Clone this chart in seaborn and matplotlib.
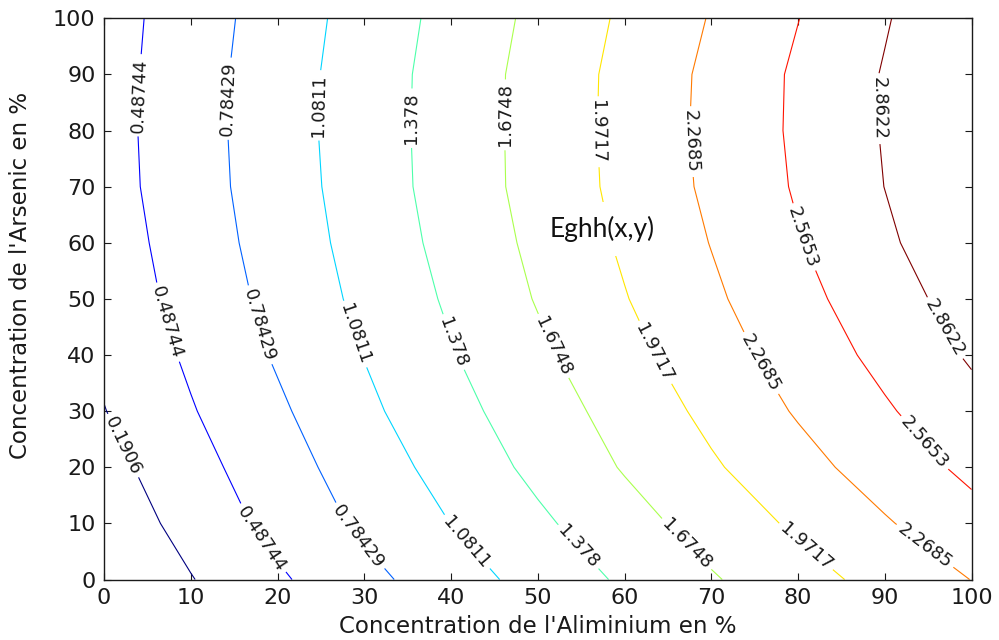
import numpy as np
import matplotlib
matplotlib.use("Agg")
import matplotlib.pyplot as plt
import seaborn as sns

# Grid of the computed gap Eghh(x, y): x = aluminium %, y = arsenic %
al_pct = [0, 10, 20, 30, 40, 50, 60, 70, 80, 90, 100]
as_pct = [0, 10, 20, 30, 40, 50, 60, 70, 80, 90, 100]

eg_as000 = [-0.106, 0.177, 0.445, 0.699, 0.946, 1.187, 1.421, 1.648, 1.860, 2.068, 2.273]
eg_as010 = [0.000, 0.293, 0.576, 0.838, 1.084, 1.325, 1.563, 1.795, 2.020, 2.242, 2.462]
eg_as020 = [0.090, 0.383, 0.659, 0.927, 1.192, 1.448, 1.696, 1.936, 2.169, 2.401, 2.633]
eg_as030 = [0.182, 0.467, 0.738, 1.019, 1.284, 1.534, 1.784, 2.043, 2.295, 2.532, 2.769]
eg_as040 = [0.246, 0.533, 0.815, 1.089, 1.359, 1.618, 1.880, 2.140, 2.394, 2.645, 2.895]
eg_as050 = [0.305, 0.588, 0.869, 1.149, 1.419, 1.693, 1.958, 2.219, 2.478, 2.734, 2.990]
eg_as060 = [0.337, 0.626, 0.910, 1.190, 1.468, 1.740, 2.012, 2.277, 2.547, 2.814, 3.081]
eg_as070 = [0.367, 0.655, 0.937, 1.219, 1.502, 1.776, 2.049, 2.323, 2.595, 2.865, 3.135]
eg_as080 = [0.376, 0.662, 0.949, 1.230, 1.505, 1.780, 2.059, 2.338, 2.613, 2.881, 3.148]
eg_as090 = [0.369, 0.658, 0.943, 1.224, 1.502, 1.777, 2.054, 2.330, 2.609, 2.881, 3.153]
eg_as100 = [0.357, 0.639, 0.920, 1.199, 1.473, 1.744, 2.017, 2.285, 2.560, 2.840, 3.120]

levels = [0.1906, 0.48744, 0.78429, 1.0811, 1.378, 1.6748, 1.9717, 2.2685, 2.5653, 2.8622]

x_ticks = [0, 10, 20, 30, 40, 50, 60, 70, 80, 90, 100]
y_ticks = [0, 10, 20, 30, 40, 50, 60, 70, 80, 90, 100]

x_label = "Concentration de l'Aliminium en %"
y_label = "Concentration de l'Arsenic en %"
note_text = "Eghh(x,y)"

Z = np.array([eg_as000, eg_as010, eg_as020, eg_as030, eg_as040, eg_as050,
              eg_as060, eg_as070, eg_as080, eg_as090, eg_as100])

sns.set_theme(style="ticks")
plt.rcParams['font.family'] = ['DejaVu Sans']

fig = plt.figure(figsize=(9.99, 6.4), dpi=100)
ax = fig.add_axes([0.1041, 0.0945, 0.8684, 0.8769])

jet = matplotlib.colormaps['jet']
colors = sns.color_palette(jet(np.linspace(0, 1, len(levels))))
cs = ax.contour(al_pct, as_pct, Z, levels=levels, colors=colors, linewidths=0.8)

label_pos = [(2.0, 23.7),
             (3.8, 86.3), (6.8, 45.6), (18.2, 7.3),
             (13.9, 85.7), (17.8, 45.3), (29.3, 7.6),
             (24.6, 84.5), (28.7, 43.6), (41.6, 6.4),
             (35.3, 82.2), (39.9, 42.1), (54.3, 5.3),
             (46.0, 82.8), (51.2, 41.2), (66.8, 5.8),
             (57.1, 79.8), (62.9, 40.0), (80.6, 5.3),
             (67.4, 78.0), (75.0, 37.9), (94.3, 5.3),
             (80.2, 60.8), (94.3, 24.0),
             (89.2, 83.9), (96.6, 44.5)]
ax.clabel(cs, levels, inline=True, fmt='%.5g', fontsize=13, colors='k',
          manual=label_pos, inline_spacing=4)

ax.text(57.4, 62.4, note_text, family=['Lato', 'DejaVu Sans'], fontsize=19,
        ha='center', va='center', color='#111111',
        bbox=dict(facecolor='white', edgecolor='none', pad=10), zorder=5)

ax.set_xlim(0, 100)
ax.set_ylim(0, 100)
ax.set_xticks(x_ticks)
ax.set_yticks(y_ticks)
ax.tick_params(direction='in', top=True, right=True, length=5, width=0.8,
               labelsize=16, pad=6, colors='k')
for sp in ax.spines.values():
    sp.set_color('k')
    sp.set_linewidth(1.0)
ax.set_xlabel(x_label, fontsize=16.5, labelpad=5, color='k')
ax.set_ylabel(y_label, fontsize=16.5, color='k')
ax.yaxis.set_label_coords(-0.083, 0.5426)

fig.savefig("out.png", dpi=100)
